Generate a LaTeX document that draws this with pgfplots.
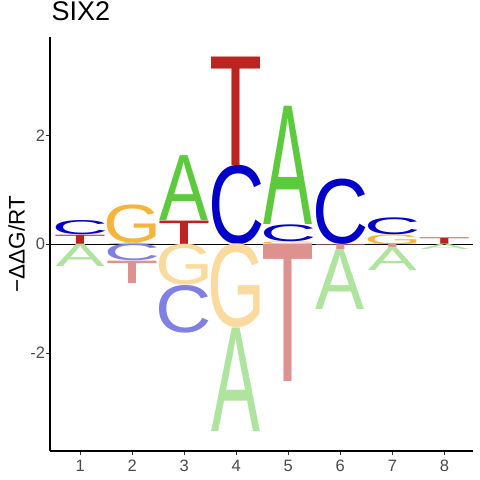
\documentclass[border=0pt]{standalone}
\usepackage{pgfplots}
\pgfplotsset{compat=1.18}
\usepackage{pgfplotstable}
\usepackage{graphicx}
\usepackage{fontspec}
\setmainfont{Liberation Sans}
\setsansfont{Liberation Sans}

\definecolor{Ap}{RGB}{93,201,60}
\definecolor{Cp}{RGB}{0,0,200}
\definecolor{Gp}{RGB}{245,180,60}
\definecolor{Tp}{RGB}{187,36,32}
\colorlet{An}{Ap!50!white}
\colorlet{Cn}{Cp!50!white}
\colorlet{Gn}{Gp!50!white}
\colorlet{Tn}{Tp!50!white}

\newdimen\yu \yu=54.466bp
\newcommand\gA{A}
\newcommand\gC{\kern-0.048em C\kern-0.046em}
\newcommand\gG{\kern-0.054em G\kern-0.068em}
\newcommand\gT{\kern-0.023em T\kern-0.023em}
\newcommand\LAp{\color{Ap}\gA}\newcommand\LAn{\color{An}\gA}
\newcommand\LCp{\color{Cp}\gC}\newcommand\LCn{\color{Cn}\gC}
\newcommand\LGp{\color{Gp}\gG}\newcommand\LGn{\color{Gn}\gG}
\newcommand\LTp{\color{Tp}\gT}\newcommand\LTn{\color{Tn}\gT}

% x = position, b = bottom of letter, h = letter height (-ddG/RT), L = letter+sign
\pgfplotstableread{
x b h L
1 0 0.17 Tp
1 0.17 0.26 Cp
2 0 0.03 Ap
2 0.03 0.70 Gp
3 0 0.43 Tp
3 0.43 1.19 Ap
4 0 1.455 Cp
4 1.455 1.99 Tp
5 0 0.05 Gp
5 0.05 0.31 Cp
5 0.36 2.17 Ap
6 0 1.20 Cp
7 0 0.18 Gp
7 0.18 0.31 Cp
8 0 0.12 Tp
1 -0.41 0.41 An
2 -0.31 0.31 Cn
2 -0.72 0.41 Tn
3 -0.75 0.75 Gn
3 -1.625 0.875 Cn
4 -1.54 1.54 Gn
4 -3.44 1.90 An
5 -2.52 2.52 Tn
6 -0.09 0.09 Tn
6 -1.19 1.10 An
7 -0.065 0.065 Tn
7 -0.485 0.42 An
8 -0.10 0.10 An
}\logo

\begin{document}
\begin{tikzpicture}
\path[use as bounding box] (-50bp,-29.3bp) rectangle (430bp,450.7bp);
\begin{axis}[
  at={(0,0)}, anchor=south west,
  scale only axis, width=423bp, height=413.4bp,
  xmin=0.42, xmax=8.55, ymin=-3.79, ymax=3.80,
  axis x line*=bottom, axis y line*=left,
  axis line style={line width=1.6bp, black},
  xtick={1,2,3,4,5,6,7,8}, ytick={-2,0,2},
  minor tick num=0,
  tick align=outside, major tick length=4.3bp,
  tick style={line width=1.1bp, color=black!80},
  ticklabel style={font=\fontsize{16.5bp}{16.5bp}\selectfont, text=black!70, inner sep=0pt},
  xticklabel style={yshift=-5bp},
  yticklabel style={xshift=-0.5bp},
  /pgf/number format/assume math mode=true,
  ylabel={−ΔΔG/RT},
  ylabel style={at={(rel axis cs:0,0.5)}, anchor=center, inner sep=0pt, yshift=33.3bp, font=\fontsize{22.5bp}{22.5bp}\selectfont},
  title={SIX2},
  title style={at={(rel axis cs:0,1)}, anchor=base west, inner sep=0pt, xshift=1.45bp, yshift=10.9bp, font=\fontsize{27bp}{27bp}\selectfont},
  clip=false,
]
\addplot[draw=none, mark=none, point meta=explicit symbolic,
  visualization depends on={\thisrow{h} \as \hgt},
  nodes near coords={\resizebox*{49bp}{\hgt\yu}{\csname L\pgfplotspointmeta\endcsname}},
  every node near coord/.append style={anchor=south, inner sep=0pt, outer sep=0pt},
] table[x=x, y=b, meta=L] {\logo};
\addplot[black, line width=0.8bp] coordinates {(0.42,0) (8.55,0)};
\end{axis}
\end{tikzpicture}
\end{document}
